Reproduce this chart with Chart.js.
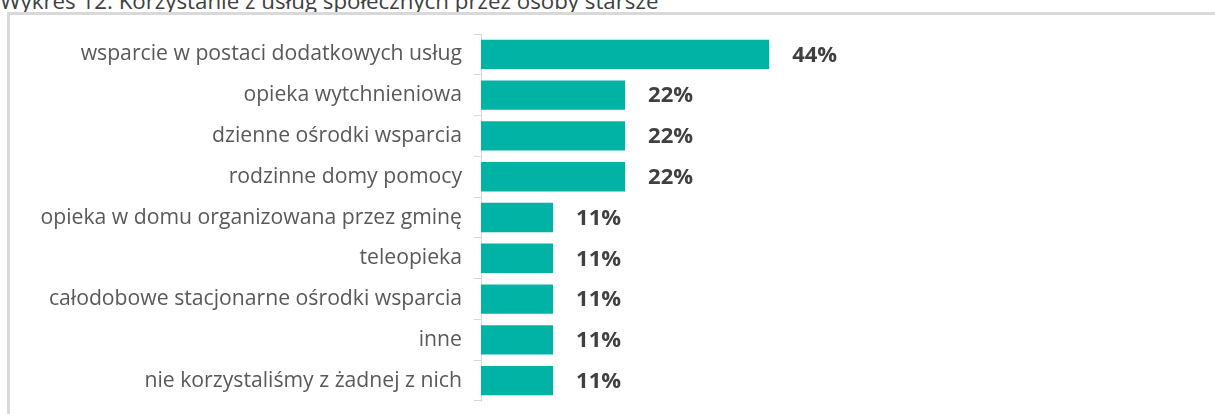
<!DOCTYPE html>
<html>
<head>
<meta charset="utf-8">
<script src="https://cdn.jsdelivr.net/npm/chart.js@4.4.0/dist/chart.umd.min.js"></script>
<style>
  html, body { margin: 0; padding: 0; background: #fff; }
  #wrap { position: relative; width: 1215px; height: 414px; overflow: hidden; }
  #title {
    position: absolute; left: 0; top: -10px; line-height: 22px;
    font-family: 'Open Sans', sans-serif; font-size: 22.3px; color: #404040; white-space: nowrap;
  }
  #frame {
    position: absolute; left: 7px; top: 12px; width: 1230px; height: 430px;
    border: 3px solid #d9d9d9; box-sizing: border-box;
  }
  canvas { position: absolute; left: 0; top: 0; }
</style>
</head>
<body>
<div id="wrap">
  <div id="title">Wykres 12. Korzystanie z usług społecznych przez osoby starsze</div>
  <div id="frame"></div>
  <canvas id="myChart" width="1215" height="414"></canvas>
</div>
<script>
let categories = [
  'wsparcie w postaci dodatkowych usług',
  'opieka wytchnieniowa',
  'dzienne ośrodki wsparcia',
  'rodzinne domy pomocy',
  'opieka w domu organizowana przez gminę',
  'teleopieka',
  'całodobowe stacjonarne ośrodki wsparcia',
  'inne',
  'nie korzystaliśmy z żadnej z nich'
]
let values = [44, 22, 22, 22, 11, 11, 11, 11, 11]

// etykiety z wartościami przy końcu słupka
const valueLabels = {
  id: 'valueLabels',
  afterDatasetsDraw(chart) {
    let ctx = chart.ctx
    let meta = chart.getDatasetMeta(0)
    ctx.save()
    ctx.font = 'bold 22px "Open Sans", sans-serif'
    ctx.fillStyle = '#404040'
    ctx.textBaseline = 'middle'
    ctx.textAlign = 'left'
    meta.data.forEach((bar, i) => {
      ctx.fillText(values[i] + '%', bar.x + 23, bar.y + 1)
    })
    ctx.restore()
  }
}

let ctx = document.getElementById('myChart').getContext('2d')

let myChart = new Chart(ctx, {
  type: 'bar',
  data: {
    labels: categories,
    datasets: [{
      data: values,
      backgroundColor: '#00b3a4',
      borderWidth: 0,
      categoryPercentage: 0.72,
      barPercentage: 1
    }]
  },
  options: {
    indexAxis: 'y',
    responsive: false,
    animation: false,
    layout: { padding: { left: 0, right: 79, top: 34, bottom: 13 } },
    plugins: {
      legend: { display: false },
      tooltip: { enabled: false }
    },
    scales: {
      x: { display: false, min: 0, max: 100 },
      y: {
        afterFit: (scale) => {
          scale.width = 481
          scale.paddingTop = 0
          scale.paddingBottom = 0
        },
        border: { color: '#d9d9d9', width: 1 },
        grid: { drawOnChartArea: false, tickLength: 7, color: '#d9d9d9', offset: true },
        ticks: {
          color: '#595959',
          padding: 12,
          font: { family: '"Open Sans", sans-serif', size: 21.2 }
        }
      }
    }
  },
  plugins: [valueLabels]
})
</script>
</body>
</html>
